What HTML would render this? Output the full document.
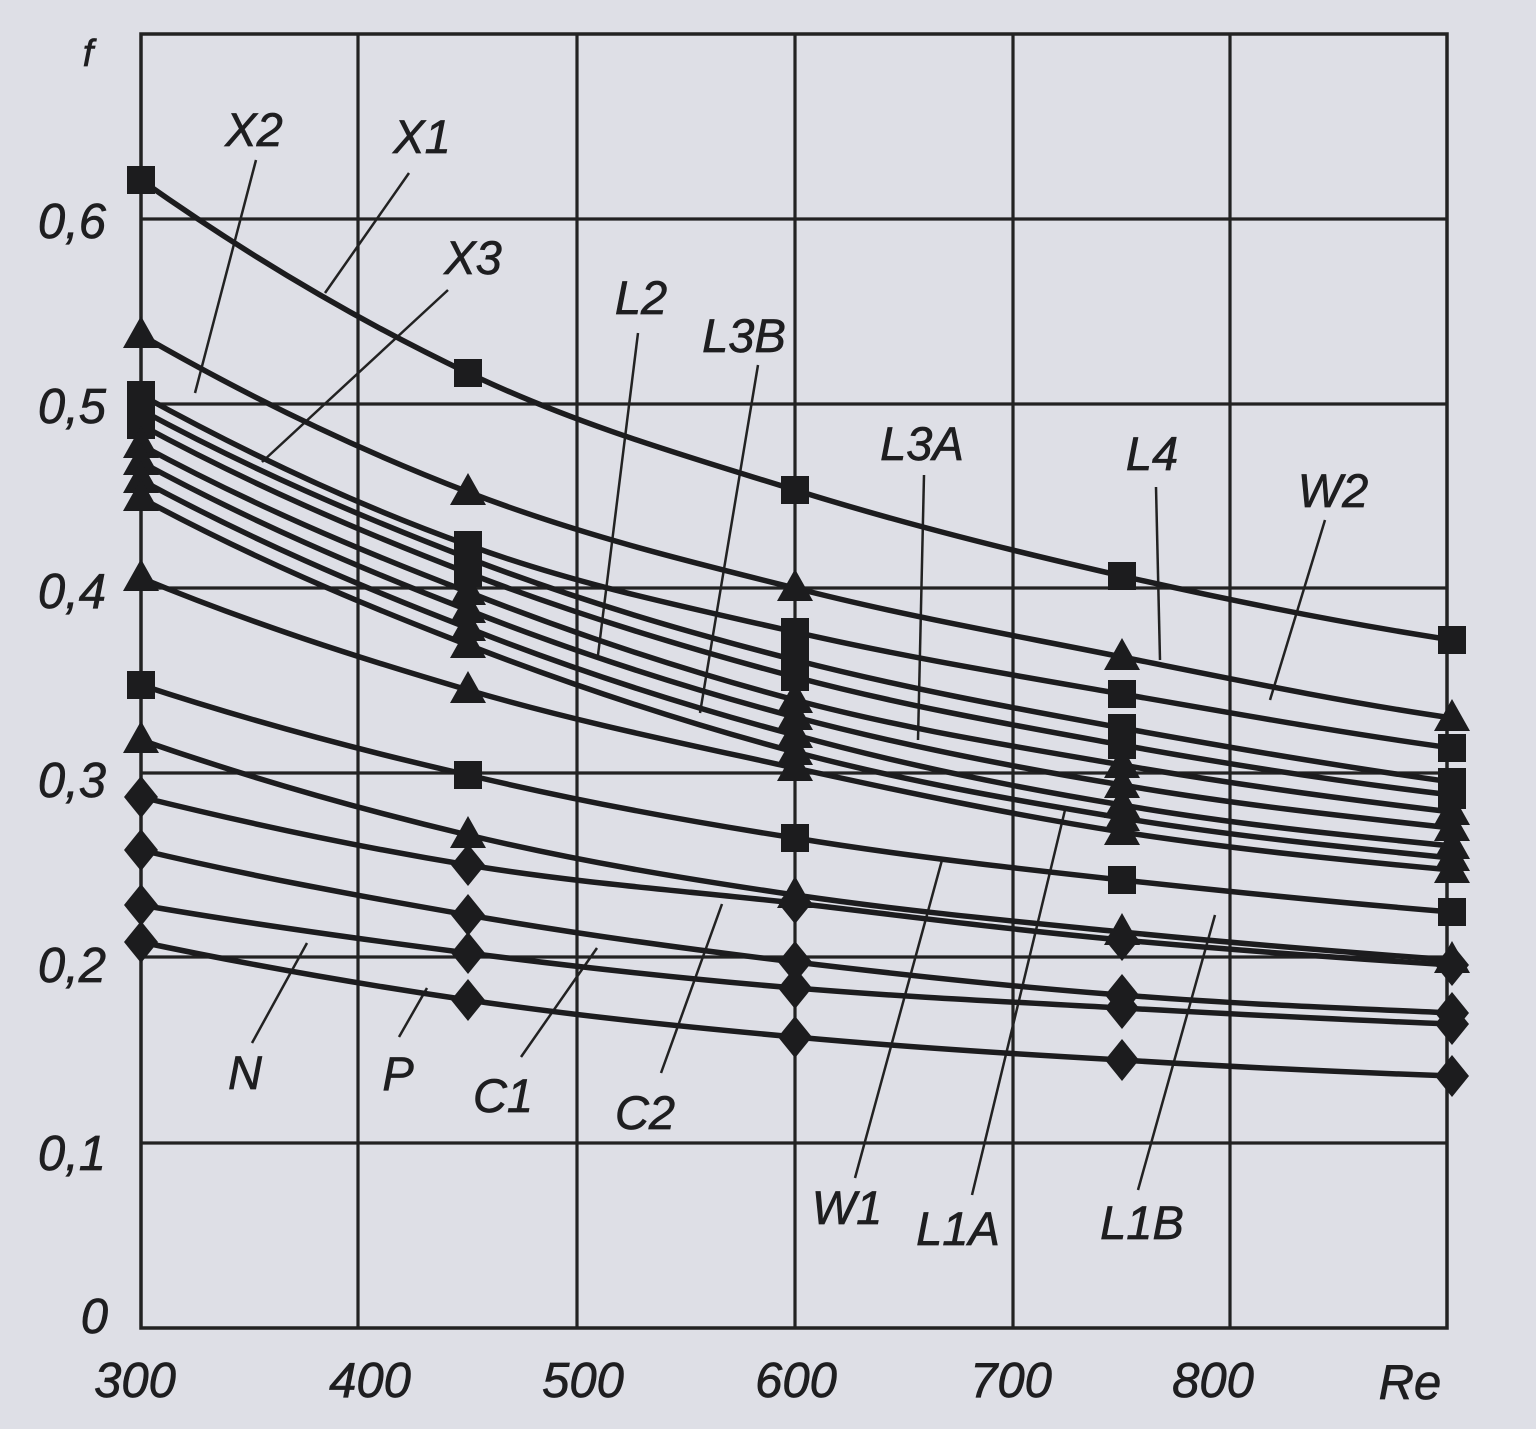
<!DOCTYPE html>
<html><head><meta charset="utf-8"><style>
html,body{margin:0;padding:0;background:#dedfe6;}
svg{display:block;}
text{font-family:"Liberation Sans",Arial,sans-serif;font-style:italic;fill:#1e1e20;stroke:#1e1e20;stroke-width:0.7;}
</style></head><body>
<svg width="1536" height="1429" viewBox="0 0 1536 1429" xmlns="http://www.w3.org/2000/svg">
<rect x="0" y="0" width="1536" height="1429" fill="#dedfe6"/>
<defs>
<path id="sq" d="M-14,-14h28v28h-28z" fill="#1c1c1e"/>
<path id="tr" d="M0,-19L18,13L-18,13Z" fill="#1c1c1e"/>
<path id="di" d="M0,-21L17,0L0,21L-17,0Z" fill="#1c1c1e"/>
</defs>
<!-- grid -->
<g stroke="#222" stroke-width="3.2" fill="none">
<line x1="358" y1="34" x2="358" y2="1328"/>
<line x1="577" y1="34" x2="577" y2="1328"/>
<line x1="795" y1="34" x2="795" y2="1328"/>
<line x1="1013" y1="34" x2="1013" y2="1328"/>
<line x1="1230" y1="34" x2="1230" y2="1328"/>
<line x1="141" y1="219" x2="1447" y2="219"/>
<line x1="141" y1="404" x2="1447" y2="404"/>
<line x1="141" y1="588" x2="1447" y2="588"/>
<line x1="141" y1="773" x2="1447" y2="773"/>
<line x1="141" y1="957" x2="1447" y2="957"/>
<line x1="141" y1="1143" x2="1447" y2="1143"/>
<rect x="141" y="34" width="1306" height="1294" stroke-width="3.5"/>
</g>
<!-- leader lines -->
<g stroke="#222" stroke-width="2.5" fill="none">
<line x1="256" y1="160" x2="195" y2="393"/>
<line x1="409" y1="173" x2="325" y2="293"/>
<line x1="448" y1="290" x2="262" y2="462"/>
<line x1="638" y1="333" x2="598" y2="655"/>
<line x1="758" y1="365" x2="700" y2="713"/>
<line x1="924" y1="475" x2="918" y2="740"/>
<line x1="1156" y1="487" x2="1160" y2="660"/>
<line x1="1325" y1="520" x2="1270" y2="700"/>
<line x1="942" y1="860" x2="855" y2="1178"/>
<line x1="1065" y1="810" x2="972" y2="1195"/>
<line x1="1215" y1="915" x2="1138" y2="1190"/>
<line x1="722" y1="904" x2="661" y2="1073"/>
<line x1="597" y1="948" x2="521" y2="1057"/>
<line x1="307" y1="943" x2="252" y2="1043"/>
<line x1="427" y1="988" x2="399" y2="1037"/>
</g>
<!-- curves -->
<g stroke="#1c1c1e" stroke-width="5.5" fill="none" stroke-linejoin="round" stroke-linecap="round">
<path d="M141,180 C250,257 359,321 468,373 C577,425 686,456 795,490 C904,524 1013,551 1122,576 C1232,601 1342,623 1452,640"/>
<path d="M141,335 C250,398 359,450 468,492 C577,534 686,561 795,588 C904,616 1013,635 1122,657 C1232,679 1342,702 1452,718"/>
<path d="M141,395 C250,455 359,506 468,545 C577,585 686,607 795,632 C904,657 1013,675 1122,694 C1232,713 1342,733 1452,748"/>
<path d="M141,410 C250,469 359,516 468,558 C577,600 686,632 795,660 C904,688 1013,708 1122,728 C1232,748 1342,767 1452,782"/>
<path d="M141,425 C250,484 359,531 468,573 C577,615 686,648 795,677 C904,706 1013,725 1122,745 C1232,765 1342,782 1452,795"/>
<path d="M141,445 C250,504 359,550 468,592 C577,635 686,671 795,700 C904,729 1013,746 1122,765 C1232,784 1342,799 1452,812"/>
<path d="M141,462 C250,521 359,568 468,610 C577,653 686,688 795,717 C904,746 1013,767 1122,785 C1232,804 1342,816 1452,828"/>
<path d="M141,480 C250,539 359,586 468,628 C577,671 686,706 795,735 C904,765 1013,787 1122,805 C1232,824 1342,835 1452,846"/>
<path d="M141,498 C250,557 359,603 468,645 C577,687 686,723 795,752 C904,781 1013,800 1122,818 C1232,836 1342,847 1452,858"/>
<path d="M141,578 C250,623 359,658 468,690 C577,722 686,744 795,768 C904,792 1013,815 1122,832 C1232,849 1342,860 1452,870"/>
<path d="M141,685 C250,721 359,750 468,775 C577,801 686,821 795,838 C904,856 1013,868 1122,880 C1232,892 1342,903 1452,912"/>
<path d="M141,740 C250,778 359,809 468,835 C577,861 686,879 795,895 C904,911 1013,921 1122,932 C1232,943 1342,952 1452,960"/>
<path d="M141,797 C250,824 359,847 468,865 C577,883 686,891 795,903 C904,916 1013,930 1122,940 C1232,950 1342,958 1452,965"/>
<path d="M141,850 C250,876 359,896 468,915 C577,934 686,949 795,962 C904,975 1013,987 1122,995 C1232,1004 1342,1008 1452,1013"/>
<path d="M141,905 C250,924 359,939 468,953 C577,967 686,979 795,988 C904,997 1013,1002 1122,1008 C1232,1014 1342,1020 1452,1024"/>
<path d="M141,942 C250,965 359,984 468,1000 C577,1016 686,1027 795,1037 C904,1047 1013,1054 1122,1060 C1232,1067 1342,1072 1452,1076"/>
</g>
<!-- markers: squares -->
<g>
<use href="#sq" x="141" y="180"/><use href="#sq" x="468" y="373"/><use href="#sq" x="795" y="490"/><use href="#sq" x="1122" y="576"/><use href="#sq" x="1452" y="640"/>
<use href="#sq" x="141" y="395"/><use href="#sq" x="468" y="545"/><use href="#sq" x="795" y="632"/><use href="#sq" x="1122" y="694"/><use href="#sq" x="1452" y="748"/>
<use href="#sq" x="141" y="410"/><use href="#sq" x="468" y="558"/><use href="#sq" x="795" y="660"/><use href="#sq" x="1122" y="728"/><use href="#sq" x="1452" y="782"/>
<use href="#sq" x="141" y="425"/><use href="#sq" x="468" y="573"/><use href="#sq" x="795" y="677"/><use href="#sq" x="1122" y="745"/><use href="#sq" x="1452" y="795"/>
<use href="#sq" x="141" y="685"/><use href="#sq" x="468" y="775"/><use href="#sq" x="795" y="838"/><use href="#sq" x="1122" y="880"/><use href="#sq" x="1452" y="912"/>
</g>
<!-- triangles -->
<g>
<use href="#tr" x="141" y="335"/><use href="#tr" x="468" y="492"/><use href="#tr" x="795" y="588"/><use href="#tr" x="1122" y="657"/><use href="#tr" x="1452" y="718"/>
<use href="#tr" x="141" y="445"/><use href="#tr" x="468" y="592"/><use href="#tr" x="795" y="700"/><use href="#tr" x="1122" y="765"/><use href="#tr" x="1452" y="812"/>
<use href="#tr" x="141" y="462"/><use href="#tr" x="468" y="610"/><use href="#tr" x="795" y="717"/><use href="#tr" x="1122" y="785"/><use href="#tr" x="1452" y="828"/>
<use href="#tr" x="141" y="480"/><use href="#tr" x="468" y="628"/><use href="#tr" x="795" y="735"/><use href="#tr" x="1122" y="805"/><use href="#tr" x="1452" y="846"/>
<use href="#tr" x="141" y="498"/><use href="#tr" x="468" y="645"/><use href="#tr" x="795" y="752"/><use href="#tr" x="1122" y="818"/><use href="#tr" x="1452" y="858"/>
<use href="#tr" x="141" y="578"/><use href="#tr" x="468" y="690"/><use href="#tr" x="795" y="768"/><use href="#tr" x="1122" y="832"/><use href="#tr" x="1452" y="870"/>
<use href="#tr" x="141" y="740"/><use href="#tr" x="468" y="835"/><use href="#tr" x="795" y="895"/><use href="#tr" x="1122" y="932"/><use href="#tr" x="1452" y="960"/>
</g>
<!-- diamonds -->
<g>
<use href="#di" x="141" y="797"/><use href="#di" x="468" y="865"/><use href="#di" x="795" y="903"/><use href="#di" x="1122" y="940"/><use href="#di" x="1452" y="965"/>
<use href="#di" x="141" y="850"/><use href="#di" x="468" y="915"/><use href="#di" x="795" y="962"/><use href="#di" x="1122" y="995"/><use href="#di" x="1452" y="1013"/>
<use href="#di" x="141" y="905"/><use href="#di" x="468" y="953"/><use href="#di" x="795" y="988"/><use href="#di" x="1122" y="1008"/><use href="#di" x="1452" y="1024"/>
<use href="#di" x="141" y="942"/><use href="#di" x="468" y="1000"/><use href="#di" x="795" y="1037"/><use href="#di" x="1122" y="1060"/><use href="#di" x="1452" y="1076"/>
</g>
<!-- y tick labels -->
<g font-size="49" text-anchor="end">
<text x="106" y="238">0,6</text>
<text x="106" y="423">0,5</text>
<text x="106" y="608">0,4</text>
<text x="106" y="797">0,3</text>
<text x="106" y="982">0,2</text>
<text x="106" y="1170">0,1</text>
<text x="108" y="1333">0</text>
</g>
<text x="88" y="66" font-size="38" text-anchor="middle">f</text>
<!-- x tick labels -->
<g font-size="49" text-anchor="middle">
<text x="135" y="1397">300</text>
<text x="370" y="1397">400</text>
<text x="583" y="1397">500</text>
<text x="796" y="1397">600</text>
<text x="1011" y="1397">700</text>
<text x="1213" y="1397">800</text>
<text x="1410" y="1399">Re</text>
</g>
<!-- curve labels -->
<g font-size="47" text-anchor="middle">
<text x="254" y="146">X2</text>
<text x="422" y="153">X1</text>
<text x="473" y="274">X3</text>
<text x="641" y="314">L2</text>
<text x="744" y="352">L3B</text>
<text x="922" y="460">L3A</text>
<text x="1152" y="470">L4</text>
<text x="1333" y="507">W2</text>
<text x="847" y="1224">W1</text>
<text x="958" y="1245">L1A</text>
<text x="1142" y="1239">L1B</text>
<text x="645" y="1129">C2</text>
<text x="503" y="1112">C1</text>
<text x="398" y="1090">P</text>
<text x="245" y="1089">N</text>
</g>
</svg>
</body></html>
